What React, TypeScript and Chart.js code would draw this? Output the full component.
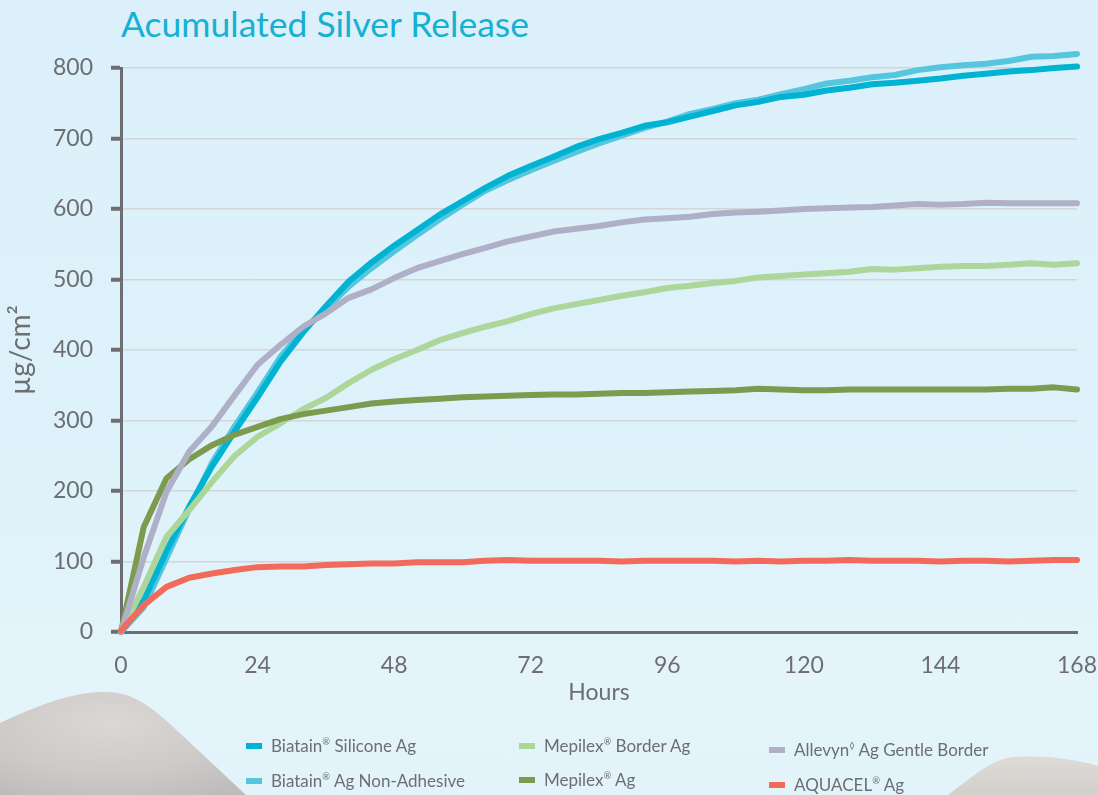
import React, { useEffect, useRef } from 'react';
import { Chart, registerables } from 'chart.js';

Chart.register(...registerables);

const hours = [0, 4, 8, 12, 16, 20, 24, 28, 32, 36, 40, 44, 48, 52, 56, 60, 64, 68, 72, 76, 80, 84, 88, 92, 96, 100, 104, 108, 112, 116, 120, 124, 128, 132, 136, 140, 144, 148, 152, 156, 160, 164, 168];

const biatainSilicone = [0, 45, 115, 178, 235, 285, 333, 383, 425, 462, 497, 524, 548, 570, 592, 611, 630, 647, 661, 674, 688, 699, 708, 718, 723, 731, 739, 747, 752, 759, 762, 768, 772, 777, 779, 782, 785, 789, 792, 795, 797, 800, 802];
const biatainNonAdhesive = [0, 35, 105, 175, 240, 292, 340, 390, 428, 458, 490, 516, 540, 563, 585, 606, 626, 641, 655, 668, 681, 693, 704, 715, 724, 735, 742, 750, 755, 763, 770, 778, 782, 787, 790, 797, 801, 804, 806, 810, 816, 817, 820];
const mepilexBorder = [0, 64, 135, 173, 213, 250, 277, 296, 316, 332, 353, 372, 387, 400, 414, 424, 433, 441, 451, 459, 465, 471, 477, 482, 488, 491, 495, 498, 503, 505, 507, 509, 511, 515, 514, 516, 518, 519, 519, 521, 523, 521, 523];
const mepilexAg = [0, 149, 218, 245, 265, 280, 291, 302, 309, 314, 319, 324, 327, 329, 331, 333, 334, 335, 336, 337, 337, 338, 339, 339, 340, 341, 342, 343, 345, 344, 343, 343, 344, 344, 344, 344, 344, 344, 344, 345, 345, 347, 344];
const allevyn = [0, 106, 199, 256, 292, 336, 379, 407, 433, 452, 474, 486, 502, 516, 526, 536, 545, 554, 561, 568, 572, 576, 581, 585, 587, 589, 593, 595, 596, 598, 600, 601, 602, 603, 605, 607, 606, 607, 609, 608, 608, 608, 608];
const aquacel = [2, 38, 64, 77, 83, 88, 92, 93, 93, 95, 96, 97, 97, 99, 99, 99, 101, 102, 101, 101, 101, 101, 100, 101, 101, 101, 101, 100, 101, 100, 101, 101, 102, 101, 101, 101, 100, 101, 101, 100, 101, 102, 102];

const seriesNames = [
  'Biatain® Silicone Ag',
  'Biatain® Ag Non-Adhesive',
  'Mepilex® Border Ag',
  'Mepilex® Ag',
  'Allevyn◊ Ag Gentle Border',
  'AQUACEL® Ag',
];
const seriesValues = [biatainSilicone, biatainNonAdhesive, mepilexBorder, mepilexAg, allevyn, aquacel];
const seriesColors = ['#00B3D2', '#55C6DE', '#ADD69A', '#7D9B4E', '#AFAFC8', '#F26B5A'];
const seriesLayer = [4, 5, 3, 2, 1, 0];

const yTicks = [0, 100, 200, 300, 400, 500, 600, 700, 800];
const xTicks = [0, 24, 48, 72, 96, 120, 144, 168];

const titleText = 'Acumulated Silver Release';
const xTitle = 'Hours';
const yTitle = 'µg/cm²';

const GREY = '#6D6E71';
const FONT = 'Lato, "Open Sans", sans-serif';

function renderName(name: string) {
  const parts = name.split(/([®◊])/);
  return parts.map((p, i) =>
    p === '®' || p === '◊' ? (
      <sup key={i} style={{ fontSize: '0.55em', verticalAlign: '0.7em', lineHeight: 0 }}>{p}</sup>
    ) : (
      <span key={i}>{p}</span>
    )
  );
}

// legend layout: columns (left px) and row tops
const legendCols = [246, 519, 769];
const legendRowTop = [[736, 771], [736, 770], [740, 775]];

export default function App() {
  const canvasRef = useRef<HTMLCanvasElement | null>(null);

  useEffect(() => {
    if (!canvasRef.current) return;
    Chart.defaults.font.family = FONT;
    const chart = new Chart(canvasRef.current, {
      type: 'line',
      data: {
        datasets: seriesNames.map((name, i) => ({
          label: name,
          data: hours.map((h, j) => ({ x: h, y: seriesValues[i][j] })),
          borderColor: seriesColors[i],
          backgroundColor: seriesColors[i],
          borderWidth: 6,
          pointRadius: 0,
          tension: 0,
          borderCapStyle: 'round',
          borderJoinStyle: 'round',
          order: seriesLayer[i],
          clip: false,
        })),
      },
      options: {
        animation: false,
        responsive: false,
        devicePixelRatio: 1,
        layout: { padding: { top: 68, right: 21, bottom: 88.2, left: 0 } },
        plugins: {
          legend: { display: false },
          title: { display: false },
          tooltip: { enabled: false },
        },
        scales: {
          x: {
            type: 'linear',
            min: 0,
            max: 168,
            afterBuildTicks: (scale: any) => {
              scale.ticks = xTicks.map((v) => ({ value: v }));
            },
            afterFit: (scale: any) => {
              scale.height = 74.8;
            },
            grid: { display: false, drawTicks: true, tickLength: 20 },
            border: { display: true, color: GREY, width: 3 },
            ticks: { color: GREY, font: { size: 23 }, padding: 0, maxRotation: 0 },
            title: { display: true, text: xTitle, color: GREY, font: { size: 23 }, padding: 0 },
          },
          y: {
            min: 0,
            max: 800,
            afterBuildTicks: (scale: any) => {
              scale.ticks = yTicks.map((v) => ({ value: v }));
            },
            afterFit: (scale: any) => {
              scale.width = 121;
            },
            grid: {
              color: '#D3D5D6',
              lineWidth: 1.5,
              drawTicks: true,
              tickLength: 10,
              tickColor: GREY,
              tickWidth: 4,
            },
            border: { display: true, color: GREY, width: 3 },
            ticks: { color: GREY, font: { size: 23 }, padding: 18 },
            title: { display: true, text: yTitle, color: GREY, font: { size: 28 }, padding: { top: 4, bottom: 0 } },
          },
        },
      } as any,
    });
    return () => chart.destroy();
  }, []);

  return (
    <div
      style={{
        position: 'fixed',
        left: 0,
        top: 0,
        width: 1098,
        height: 795,
        overflow: 'hidden',
        background: 'linear-gradient(180deg, #DBF0FA 0%, #DEF2FA 60%, #E4F4FA 85%, #E2F3FA 100%)',
        fontFamily: FONT,
      }}
    >
      <svg width={1098} height={795} style={{ position: 'absolute', left: 0, top: 0 }}>
        <defs>
          <radialGradient id="blobL" cx="0.45" cy="0.3" r="0.8">
            <stop offset="0" stopColor="#DAD7D4" />
            <stop offset="0.6" stopColor="#CDCAC8" />
            <stop offset="1" stopColor="#BFBDBC" />
          </radialGradient>
          <linearGradient id="blobR" x1="0" y1="0" x2="0" y2="1">
            <stop offset="0" stopColor="#DEDAD6" />
            <stop offset="1" stopColor="#D3CFCC" />
          </linearGradient>
        </defs>
        <path d="M0,723 C35,707 68,693 102,692 C128,691 146,702 170,724 L246,795 L0,795 Z" fill="url(#blobL)" />
        <path d="M948,795 C972,778 990,759 1014,757 C1048,755 1078,760 1098,766 L1098,795 Z" fill="url(#blobR)" />
      </svg>
      <div
        style={{
          position: 'absolute',
          left: 121,
          top: 3,
          fontSize: 35.5,
          lineHeight: '42px',
          color: '#16B0D3',
          whiteSpace: 'nowrap',
        }}
      >
        {titleText}
      </div>
      <canvas
        ref={canvasRef}
        width={1098}
        height={795}
        style={{ position: 'absolute', left: 0, top: 0, width: 1098, height: 795 }}
      />
      {seriesNames.map((name, i) => {
        const col = Math.floor(i / 2);
        const row = i % 2;
        return (
          <div
            key={name}
            style={{
              position: 'absolute',
              left: legendCols[col],
              top: legendRowTop[col][row],
              height: 20,
              display: 'flex',
              alignItems: 'center',
              whiteSpace: 'nowrap',
              color: GREY,
              fontSize: 17,
              lineHeight: '20px',
            }}
          >
            <span style={{ display: 'inline-block', width: 16, height: 6, background: seriesColors[i], marginRight: 9 }} />
            <span>{renderName(name)}</span>
          </div>
        );
      })}
    </div>
  );
}
